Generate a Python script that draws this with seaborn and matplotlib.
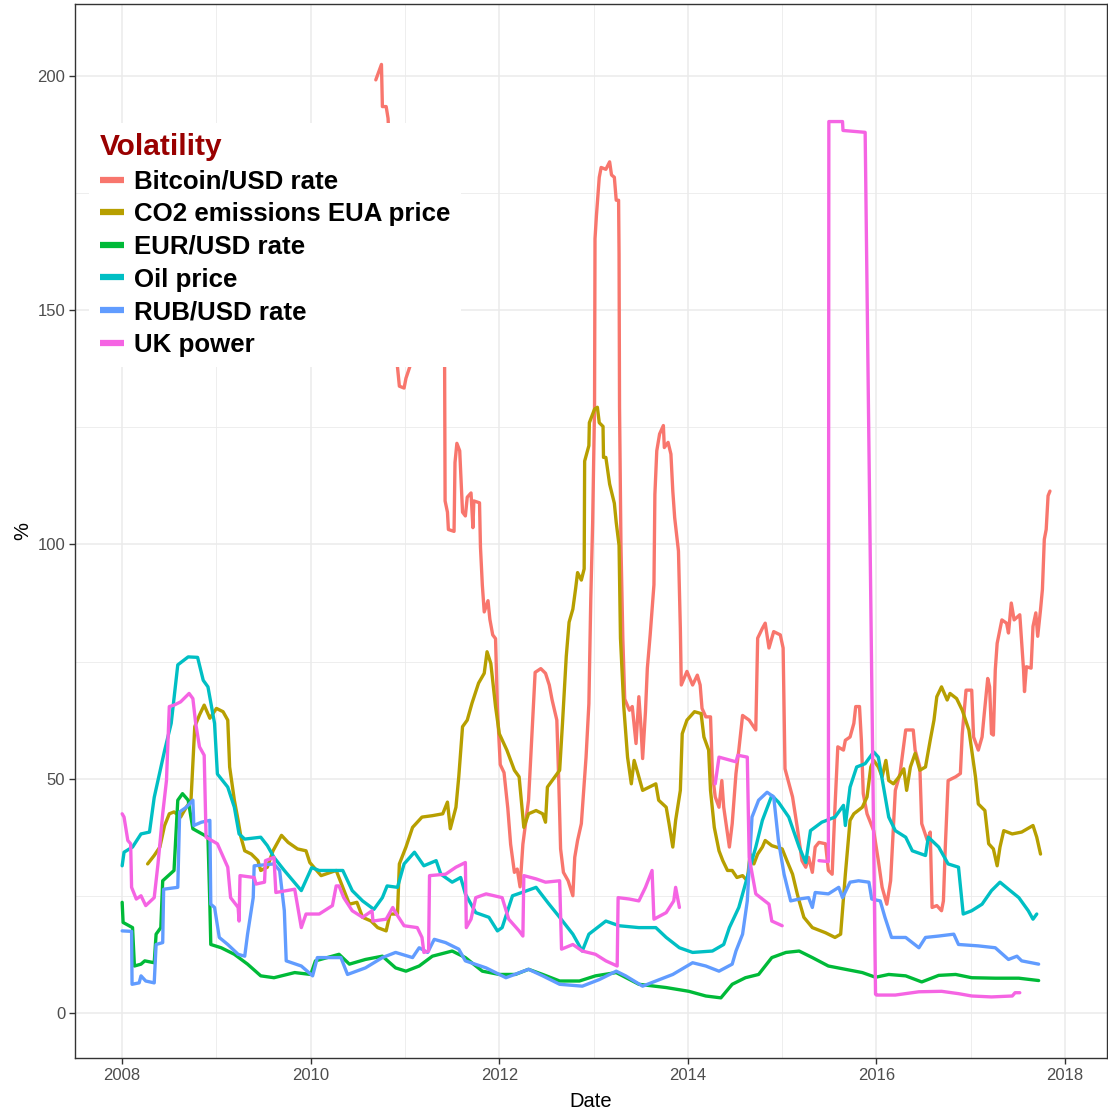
import numpy as np
import pandas as pd
import matplotlib
matplotlib.use("Agg")
import matplotlib.pyplot as plt
from matplotlib.lines import Line2D
import seaborn as sns

# --- data (date in decimal years, volatility in %) ---
btc_date = [2010.69, 2010.75, 2010.76, 2010.80, 2010.82, 2010.86, 2010.90, 2010.92, 2010.94, 2010.99,
            2011.01, 2011.05, 2011.10, 2011.18, 2011.28, 2011.38, 2011.42, 2011.425, 2011.45, 2011.46,
            2011.52, 2011.53, 2011.55, 2011.58, 2011.61, 2011.64, 2011.66, 2011.70, 2011.72, 2011.73,
            2011.79, 2011.80, 2011.82, 2011.84, 2011.88, 2011.90, 2011.93, 2011.96, 2011.98, 2012.01,
            2012.05, 2012.09, 2012.12, 2012.16, 2012.19, 2012.22, 2012.25, 2012.31, 2012.35, 2012.38,
            2012.44, 2012.49, 2012.53, 2012.56, 2012.61, 2012.63, 2012.65, 2012.68, 2012.73, 2012.78,
            2012.80, 2012.83, 2012.87, 2012.92, 2012.95, 2012.97, 2012.99, 2013.01, 2013.015, 2013.03,
            2013.06, 2013.08, 2013.13, 2013.17, 2013.19, 2013.22, 2013.24, 2013.265, 2013.27, 2013.275,
            2013.29, 2013.31, 2013.33, 2013.38, 2013.41, 2013.45, 2013.48, 2013.50, 2013.52, 2013.55,
            2013.57, 2013.60, 2013.64, 2013.65, 2013.67, 2013.70, 2013.74, 2013.75, 2013.79, 2013.82,
            2013.84, 2013.86, 2013.90, 2013.92, 2013.93, 2013.99, 2014.05, 2014.10, 2014.13, 2014.15,
            2014.19, 2014.24, 2014.26, 2014.29, 2014.33, 2014.36, 2014.38, 2014.42, 2014.44, 2014.47,
            2014.51, 2014.54, 2014.58, 2014.65, 2014.72, 2014.74, 2014.79, 2014.82, 2014.86, 2014.91,
            2014.98, 2015.01, 2015.03, 2015.11, 2015.16, 2015.21, 2015.25, 2015.28, 2015.32, 2015.35,
            2015.39, 2015.46, 2015.49, 2015.53, 2015.56, 2015.59, 2015.65, 2015.67, 2015.72, 2015.76,
            2015.78, 2015.82, 2015.84, 2015.86, 2015.90, 2015.97, 2016.02, 2016.06, 2016.11, 2016.15,
            2016.20, 2016.25, 2016.31, 2016.39, 2016.41, 2016.46, 2016.48, 2016.54, 2016.57, 2016.59,
            2016.64, 2016.69, 2016.71, 2016.73, 2016.76, 2016.84, 2016.89, 2016.91, 2016.95, 2017.01,
            2017.03, 2017.08, 2017.12, 2017.14, 2017.18, 2017.20, 2017.22, 2017.24, 2017.26, 2017.28,
            2017.33, 2017.38, 2017.40, 2017.43, 2017.46, 2017.52, 2017.56, 2017.57, 2017.59, 2017.64,
            2017.66, 2017.69, 2017.71, 2017.74, 2017.76, 2017.78, 2017.80, 2017.82, 2017.84]
btc_vol = [199.2, 202.5, 193.5, 193.5, 191.0, 175.0, 150.0, 137.9, 133.8, 133.4,
           135.5, 137.9, 150.0, 165.0, 158.0, 145.0, 137.9, 109.3, 106.9, 103.2,
           102.8, 117.5, 121.6, 120.0, 106.9, 106.1, 110.1, 111.0, 103.6, 109.3,
           108.9, 99.5, 91.3, 85.6, 88.0, 84.0, 80.7, 79.9, 65.0, 53.0,
           51.3, 43.7, 36.0, 30.0, 30.7, 26.9, 36.0, 45.4, 61.1, 72.7,
           73.5, 72.5, 70.0, 66.8, 62.5, 49.8, 35.0, 30.0, 28.2, 25.0,
           33.2, 36.8, 40.4, 54.6, 66.0, 88.3, 104.7, 129.3, 165.3, 170.2,
           178.4, 180.5, 180.1, 181.7, 178.9, 178.4, 173.5, 173.5, 162.0, 129.3,
           100.0, 80.0, 67.0, 64.6, 65.4, 57.5, 67.5, 61.8, 54.3, 64.3,
           73.6, 80.7, 91.4, 110.7, 120.0, 123.6, 125.4, 120.7, 121.8, 119.3,
           111.4, 105.7, 98.6, 82.1, 70.0, 72.9, 70.0, 72.1, 70.0, 65.0,
           63.2, 63.2, 51.1, 46.1, 43.9, 49.6, 43.9, 38.2, 35.4, 40.4,
           51.1, 56.1, 63.5, 62.5, 60.4, 80.0, 82.1, 83.2, 77.9, 81.4,
           80.7, 77.9, 52.1, 46.1, 39.6, 32.5, 31.1, 33.2, 30.0, 35.4,
           36.4, 36.1, 30.4, 29.6, 43.9, 56.8, 56.1, 58.2, 58.9, 61.8,
           65.4, 65.4, 58.2, 46.8, 42.5, 38.9, 32.5, 26.8, 23.2, 28.2,
           47.5, 51.1, 60.4, 60.4, 56.1, 52.5, 40.4, 36.8, 38.6, 22.5,
           22.9, 21.8, 23.9, 35.4, 49.6, 50.4, 51.1, 59.6, 68.9, 68.9,
           58.9, 56.1, 58.9, 63.2, 71.4, 69.6, 59.6, 59.3, 73.2, 78.9,
           83.9, 83.2, 81.1, 87.5, 83.9, 85.0, 73.2, 68.6, 73.9, 73.6,
           82.5, 85.4, 80.4, 86.1, 90.4, 101.1, 103.2, 110.4, 111.4]

co2_date = [2008.27, 2008.34, 2008.40, 2008.45, 2008.50, 2008.55, 2008.62, 2008.68, 2008.73, 2008.77,
            2008.82, 2008.87, 2008.93, 2009.00, 2009.07, 2009.12, 2009.14, 2009.19, 2009.23, 2009.26,
            2009.30, 2009.37, 2009.44, 2009.47, 2009.54, 2009.60, 2009.69, 2009.76, 2009.86, 2009.95,
            2009.99, 2010.11, 2010.27, 2010.34, 2010.41, 2010.49, 2010.55, 2010.64, 2010.71, 2010.80,
            2010.84, 2010.92, 2010.94, 2011.01, 2011.08, 2011.18, 2011.29, 2011.40, 2011.45, 2011.48,
            2011.54, 2011.57, 2011.61, 2011.66, 2011.71, 2011.78, 2011.84, 2011.87, 2011.91, 2011.96,
            2012.00, 2012.08, 2012.16, 2012.21, 2012.26, 2012.31, 2012.39, 2012.46, 2012.49, 2012.51,
            2012.56, 2012.64, 2012.67, 2012.71, 2012.74, 2012.78, 2012.81, 2012.83, 2012.87, 2012.90,
            2012.905, 2012.95, 2012.955, 2013.01, 2013.04, 2013.06, 2013.10, 2013.105, 2013.13, 2013.17,
            2013.22, 2013.24, 2013.27, 2013.285, 2013.32, 2013.36, 2013.40, 2013.43, 2013.47, 2013.52,
            2013.59, 2013.66, 2013.69, 2013.77, 2013.80, 2013.84, 2013.87, 2013.92, 2013.94, 2013.99,
            2014.07, 2014.14, 2014.17, 2014.22, 2014.24, 2014.28, 2014.33, 2014.37, 2014.42, 2014.47,
            2014.52, 2014.58, 2014.63, 2014.66, 2014.70, 2014.74, 2014.79, 2014.82, 2014.89, 2015.00,
            2015.05, 2015.11, 2015.16, 2015.18, 2015.23, 2015.32, 2015.46, 2015.56, 2015.62, 2015.67,
            2015.72, 2015.76, 2015.85, 2015.90, 2015.94, 2015.97, 2016.02, 2016.06, 2016.10, 2016.13,
            2016.18, 2016.24, 2016.29, 2016.32, 2016.36, 2016.41, 2016.46, 2016.52, 2016.57, 2016.61,
            2016.64, 2016.69, 2016.75, 2016.78, 2016.85, 2016.91, 2016.98, 2017.05, 2017.08, 2017.15,
            2017.19, 2017.24, 2017.28, 2017.31, 2017.35, 2017.44, 2017.54, 2017.66, 2017.70, 2017.74]
co2_vol = [31.8, 33.6, 35.4, 40.0, 42.5, 42.9, 41.8, 43.9, 45.4, 61.1,
           63.6, 65.7, 62.9, 65.0, 64.3, 62.5, 52.5, 45.4, 41.1, 37.5,
           34.6, 33.9, 32.5, 30.4, 31.1, 34.6, 37.9, 36.4, 35.0, 34.6,
           32.1, 29.3, 30.4, 26.8, 23.2, 23.6, 20.4, 19.6, 18.2, 17.5,
           21.1, 21.1, 31.8, 35.4, 39.6, 41.8, 42.1, 42.5, 45.0, 39.3,
           43.9, 50.4, 61.1, 62.5, 66.1, 70.4, 72.5, 77.1, 74.6, 65.4,
           59.6, 56.1, 51.8, 50.4, 39.6, 42.5, 43.2, 42.5, 40.7, 48.2,
           49.6, 51.8, 61.8, 76.1, 83.4, 86.2, 90.7, 94.0, 92.4, 94.8,
           117.8, 121.1, 126.0, 128.9, 129.3, 126.0, 125.2, 118.6, 118.6, 112.9,
           108.8, 104.7, 99.8, 80.0, 65.4, 54.6, 48.9, 53.9, 51.1, 47.5,
           48.2, 48.9, 45.4, 43.9, 40.4, 35.4, 41.1, 47.5, 59.6, 62.5,
           64.3, 63.9, 58.9, 56.1, 47.5, 39.6, 34.6, 32.5, 30.4, 30.4,
           28.9, 29.3, 28.2, 33.9, 31.8, 33.9, 35.4, 36.8, 35.7, 35.0,
           32.5, 29.6, 25.4, 23.9, 20.4, 18.2, 17.1, 16.1, 16.8, 29.6,
           41.1, 42.5, 43.9, 46.1, 52.5, 53.9, 52.5, 50.4, 53.9, 49.6,
           48.9, 50.4, 52.1, 47.5, 52.5, 55.4, 51.8, 52.5, 58.2, 62.5,
           67.5, 69.6, 66.8, 68.2, 67.1, 64.6, 60.4, 50.4, 44.6, 43.2,
           36.1, 35.0, 31.4, 35.4, 38.9, 38.2, 38.6, 40.0, 37.5, 33.9]

eur_date = [2008.00, 2008.01, 2008.11, 2008.13, 2008.20, 2008.24, 2008.34, 2008.36, 2008.41, 2008.43,
            2008.55, 2008.59, 2008.64, 2008.70, 2008.75, 2008.91, 2008.93, 2008.94, 2009.05, 2009.19,
            2009.33, 2009.47, 2009.61, 2009.83, 2010.00, 2010.05, 2010.30, 2010.41, 2010.58, 2010.76,
            2010.90, 2011.01, 2011.15, 2011.29, 2011.50, 2011.64, 2011.82, 2012.00, 2012.17, 2012.31,
            2012.46, 2012.64, 2012.85, 2013.02, 2013.24, 2013.48, 2013.77, 2014.01, 2014.19, 2014.35,
            2014.47, 2014.61, 2014.75, 2014.89, 2015.04, 2015.18, 2015.32, 2015.49, 2015.67, 2015.85,
            2015.99, 2016.13, 2016.31, 2016.48, 2016.66, 2016.84, 2017.01, 2017.26, 2017.51, 2017.72]
eur_vol = [23.6, 19.3, 18.2, 10.0, 10.4, 11.1, 10.7, 16.8, 18.2, 28.2,
           30.4, 45.4, 46.8, 45.4, 39.3, 37.5, 23.2, 14.6, 13.9, 12.5,
           10.4, 7.9, 7.5, 8.6, 8.2, 11.1, 12.5, 10.4, 11.4, 12.1,
           9.6, 8.9, 10.0, 12.1, 13.2, 11.8, 8.9, 8.2, 8.2, 9.3,
           8.2, 6.8, 6.8, 7.9, 8.6, 6.1, 5.4, 4.6, 3.6, 3.2,
           6.1, 7.5, 8.2, 11.8, 12.9, 13.2, 11.8, 10.0, 9.3, 8.6,
           7.6, 8.2, 7.9, 6.6, 8.0, 8.2, 7.5, 7.4, 7.4, 6.9]

oil_date = [2008.00, 2008.02, 2008.11, 2008.20, 2008.29, 2008.34, 2008.45, 2008.52, 2008.59, 2008.70,
            2008.80, 2008.86, 2008.91, 2008.98, 2009.01, 2009.12, 2009.19, 2009.24, 2009.30, 2009.47,
            2009.54, 2009.61, 2009.72, 2009.90, 2010.01, 2010.09, 2010.34, 2010.44, 2010.55, 2010.67,
            2010.76, 2010.81, 2010.92, 2010.99, 2011.10, 2011.20, 2011.33, 2011.38, 2011.50, 2011.59,
            2011.64, 2011.75, 2011.89, 2011.98, 2012.03, 2012.14, 2012.24, 2012.39, 2012.52, 2012.64,
            2012.78, 2012.88, 2012.95, 2013.13, 2013.27, 2013.48, 2013.66, 2013.77, 2013.91, 2014.05,
            2014.26, 2014.38, 2014.44, 2014.54, 2014.65, 2014.72, 2014.79, 2014.89, 2014.96, 2015.07,
            2015.18, 2015.25, 2015.30, 2015.42, 2015.56, 2015.65, 2015.67, 2015.72, 2015.79, 2015.88,
            2015.97, 2016.02, 2016.13, 2016.20, 2016.31, 2016.38, 2016.52, 2016.55, 2016.66, 2016.76,
            2016.87, 2016.92, 2017.01, 2017.12, 2017.22, 2017.31, 2017.40, 2017.51, 2017.61, 2017.66,
            2017.70]
oil_vol = [31.4, 34.3, 35.4, 38.2, 38.6, 46.0, 56.0, 61.8, 74.3, 76.0,
           75.9, 71.0, 69.6, 61.8, 51.0, 48.2, 43.9, 38.2, 37.1, 37.5,
           35.7, 33.2, 30.4, 26.1, 31.0, 30.4, 30.4, 26.1, 23.9, 22.1,
           24.6, 27.1, 26.8, 31.8, 34.3, 31.4, 32.5, 29.6, 27.9, 28.9,
           25.4, 21.4, 20.4, 17.5, 18.2, 25.0, 25.7, 26.8, 23.4, 20.4,
           16.8, 13.2, 16.8, 19.6, 18.6, 18.2, 18.2, 16.1, 13.9, 12.9,
           13.2, 14.6, 18.2, 22.5, 30.4, 35.4, 41.1, 46.4, 45.0, 41.8,
           35.4, 32.1, 38.9, 40.7, 41.8, 44.3, 40.0, 48.2, 52.5, 53.2,
           55.7, 54.6, 41.8, 38.9, 37.5, 34.6, 33.6, 37.5, 35.4, 31.8,
           31.1, 21.1, 21.8, 23.2, 26.1, 27.9, 26.4, 24.6, 21.8, 20.0,
           21.1]

rub_date = [2008.00, 2008.10, 2008.105, 2008.18, 2008.20, 2008.25, 2008.34, 2008.36, 2008.43, 2008.44,
            2008.59, 2008.61, 2008.68, 2008.75, 2008.76, 2008.84, 2008.93, 2008.94, 2008.98, 2009.03,
            2009.12, 2009.23, 2009.30, 2009.33, 2009.39, 2009.40, 2009.61, 2009.67, 2009.72, 2009.74,
            2009.90, 2010.02, 2010.07, 2010.32, 2010.39, 2010.58, 2010.76, 2010.90, 2011.08, 2011.15,
            2011.24, 2011.31, 2011.43, 2011.57, 2011.64, 2011.86, 2012.07, 2012.31, 2012.46, 2012.64,
            2012.88, 2013.06, 2013.24, 2013.34, 2013.52, 2013.66, 2013.84, 2014.05, 2014.19, 2014.33,
            2014.47, 2014.51, 2014.58, 2014.63, 2014.68, 2014.75, 2014.84, 2014.91, 2014.96, 2015.02,
            2015.09, 2015.18, 2015.28, 2015.32, 2015.35, 2015.49, 2015.60, 2015.64, 2015.72, 2015.81,
            2015.92, 2015.95, 2016.04, 2016.09, 2016.16, 2016.31, 2016.45, 2016.52, 2016.66, 2016.82,
            2016.87, 2017.08, 2017.26, 2017.40, 2017.49, 2017.54, 2017.72]
rub_vol = [17.5, 17.4, 6.1, 6.4, 7.9, 6.8, 6.4, 14.6, 15.0, 26.4,
           26.8, 42.9, 43.9, 45.4, 40.0, 40.7, 41.1, 23.2, 22.5, 16.1,
           14.6, 12.5, 12.1, 16.8, 24.6, 31.4, 31.8, 30.4, 21.8, 11.1,
           10.0, 7.9, 11.8, 11.8, 8.2, 9.6, 11.8, 12.9, 11.8, 13.9,
           12.9, 15.7, 15.0, 13.6, 11.1, 9.6, 7.5, 9.3, 7.9, 6.1,
           5.7, 7.1, 8.9, 7.9, 5.7, 6.8, 8.2, 10.7, 10.0, 8.9,
           10.4, 13.2, 16.8, 23.9, 41.8, 45.4, 47.1, 46.1, 36.8, 29.6,
           23.9, 24.3, 24.6, 22.5, 25.7, 25.4, 26.8, 24.6, 27.9, 28.2,
           27.9, 24.3, 23.9, 20.4, 16.1, 16.1, 13.9, 16.1, 16.4, 16.8,
           14.6, 14.3, 13.9, 11.4, 12.1, 11.1, 10.4]

# UK power has gaps, so it comes in three pieces
uk_date_1 = [2008.00, 2008.02, 2008.06, 2008.09, 2008.10, 2008.15, 2008.20, 2008.25, 2008.34, 2008.38,
             2008.43, 2008.47, 2008.50, 2008.55, 2008.62, 2008.71, 2008.75, 2008.78, 2008.82, 2008.87,
             2008.89, 2009.01, 2009.12, 2009.15, 2009.23, 2009.24, 2009.25, 2009.40, 2009.42, 2009.51,
             2009.52, 2009.61, 2009.63, 2009.83, 2009.90, 2009.95, 2010.09, 2010.23, 2010.27, 2010.30,
             2010.35, 2010.44, 2010.55, 2010.65, 2010.66, 2010.80, 2010.87, 2010.90, 2010.99, 2011.13,
             2011.18, 2011.20, 2011.25, 2011.26, 2011.43, 2011.54, 2011.64, 2011.65, 2011.70, 2011.75,
             2011.86, 2012.03, 2012.10, 2012.21, 2012.25, 2012.26, 2012.39, 2012.49, 2012.64, 2012.66,
             2012.78, 2012.88, 2013.02, 2013.13, 2013.25, 2013.26, 2013.38, 2013.48, 2013.55, 2013.62,
             2013.64, 2013.77, 2013.85, 2013.87, 2013.91]
uk_vol_1 = [42.5, 41.8, 36.8, 36.1, 26.8, 24.3, 25.0, 22.9, 24.6, 31.8,
            42.5, 49.6, 65.4, 65.7, 66.4, 68.2, 67.1, 61.8, 56.8, 55.0,
            37.5, 36.1, 31.1, 24.6, 22.5, 19.6, 29.3, 28.9, 27.5, 27.9,
            32.5, 33.2, 25.7, 26.4, 18.2, 21.1, 21.1, 22.9, 27.1, 27.1,
            24.6, 21.8, 20.4, 21.8, 19.6, 20.0, 22.5, 21.4, 18.6, 18.2,
            16.1, 12.9, 13.2, 29.3, 29.6, 31.1, 32.1, 18.2, 20.0, 24.6,
            25.4, 24.6, 20.0, 17.5, 16.4, 29.3, 28.6, 27.9, 28.2, 13.6,
            14.6, 13.2, 12.5, 11.1, 10.0, 24.6, 24.3, 23.9, 26.8, 30.4,
            20.0, 21.4, 23.9, 26.8, 22.5]
uk_date_2 = [2014.29, 2014.33, 2014.51, 2014.53, 2014.63, 2014.65, 2014.72, 2014.86, 2014.89, 2015.00]
uk_vol_2 = [48.9, 54.6, 53.6, 55.0, 54.6, 33.2, 25.4, 23.2, 19.6, 18.6]
uk_date_3 = [2015.39, 2015.49, 2015.495, 2015.64, 2015.645, 2015.88, 2015.99, 2016.00, 2016.20, 2016.45,
             2016.69, 2016.87, 2017.01, 2017.22, 2017.44, 2017.47, 2017.52]
uk_vol_3 = [32.5, 32.3, 190.3, 190.3, 188.4, 188.0, 4.0, 3.8, 3.8, 4.5,
            4.6, 4.1, 3.6, 3.4, 3.6, 4.3, 4.3]

names = ["Bitcoin/USD rate", "CO2 emissions EUA price", "EUR/USD rate",
         "Oil price", "RUB/USD rate", "UK power"]
colors = ["#F8766D", "#B79F00", "#00BA38", "#00BFC4", "#619CFF", "#F564E3"]

pieces = [
    (names[0], 0, btc_date, btc_vol),
    (names[1], 0, co2_date, co2_vol),
    (names[2], 0, eur_date, eur_vol),
    (names[3], 0, oil_date, oil_vol),
    (names[4], 0, rub_date, rub_vol),
    (names[5], 0, uk_date_1, uk_vol_1),
    (names[5], 1, uk_date_2, uk_vol_2),
    (names[5], 2, uk_date_3, uk_vol_3),
]
df = pd.concat([pd.DataFrame({"Date": d, "vol": v, "series": s, "seg": k})
                for s, k, d, v in pieces], ignore_index=True)

sns.set_theme(style="white")
plt.rcParams["font.family"] = ["Liberation Sans", "DejaVu Sans"]

fig = plt.figure(figsize=(11.08, 11.12), dpi=100)
ax = fig.add_axes([0.0677, 0.0486, 0.9314, 0.9478])

sns.lineplot(data=df, x="Date", y="vol", hue="series", units="seg", estimator=None,
             sort=False, hue_order=names, palette=colors, linewidth=2.4,
             legend=False, ax=ax)

ax.set_xlim(2007.50, 2018.445)
ax.set_ylim(-9.63, 215.4)
ax.set_xticks(range(2008, 2019, 2))
ax.set_xticks(range(2009, 2018, 2), minor=True)
ax.set_yticks([0, 50, 100, 150, 200])
ax.set_yticks([25, 75, 125, 175], minor=True)
ax.grid(which="major", color="#EBEBEB", linewidth=1.1)
ax.grid(which="minor", color="#EBEBEB", linewidth=0.6)
ax.set_axisbelow(True)
for sp in ax.spines.values():
    sp.set_visible(True)
    sp.set_color("#333333")
    sp.set_linewidth(1.0)
ax.tick_params(which="major", length=4, width=1, color="#333333",
               labelsize=12, labelcolor="#4D4D4D", bottom=True, left=True, pad=3)
ax.tick_params(which="minor", length=0)
ax.set_xlabel("Date", fontsize=14.5, color="black", labelpad=7)
ax.set_ylabel("%", fontsize=14.5, color="black", labelpad=4)

handles = [Line2D([0], [0], color=c, lw=4.5, solid_capstyle="butt") for c in colors]
leg = ax.legend(handles, names, title="Volatility", loc="upper left",
                bbox_to_anchor=(0.0136, 0.8875), borderaxespad=0,
                frameon=True, fancybox=False, facecolor="white", edgecolor="none",
                framealpha=1, prop=dict(weight="bold", size=18.6),
                title_fontproperties=dict(weight="bold", size=21.5),
                alignment="left", handlelength=0.95, handletextpad=0.36,
                labelspacing=0.33, borderpad=0.42, labelcolor="black")
leg.get_title().set_color("#990000")

fig.savefig("out.png", dpi=100)
